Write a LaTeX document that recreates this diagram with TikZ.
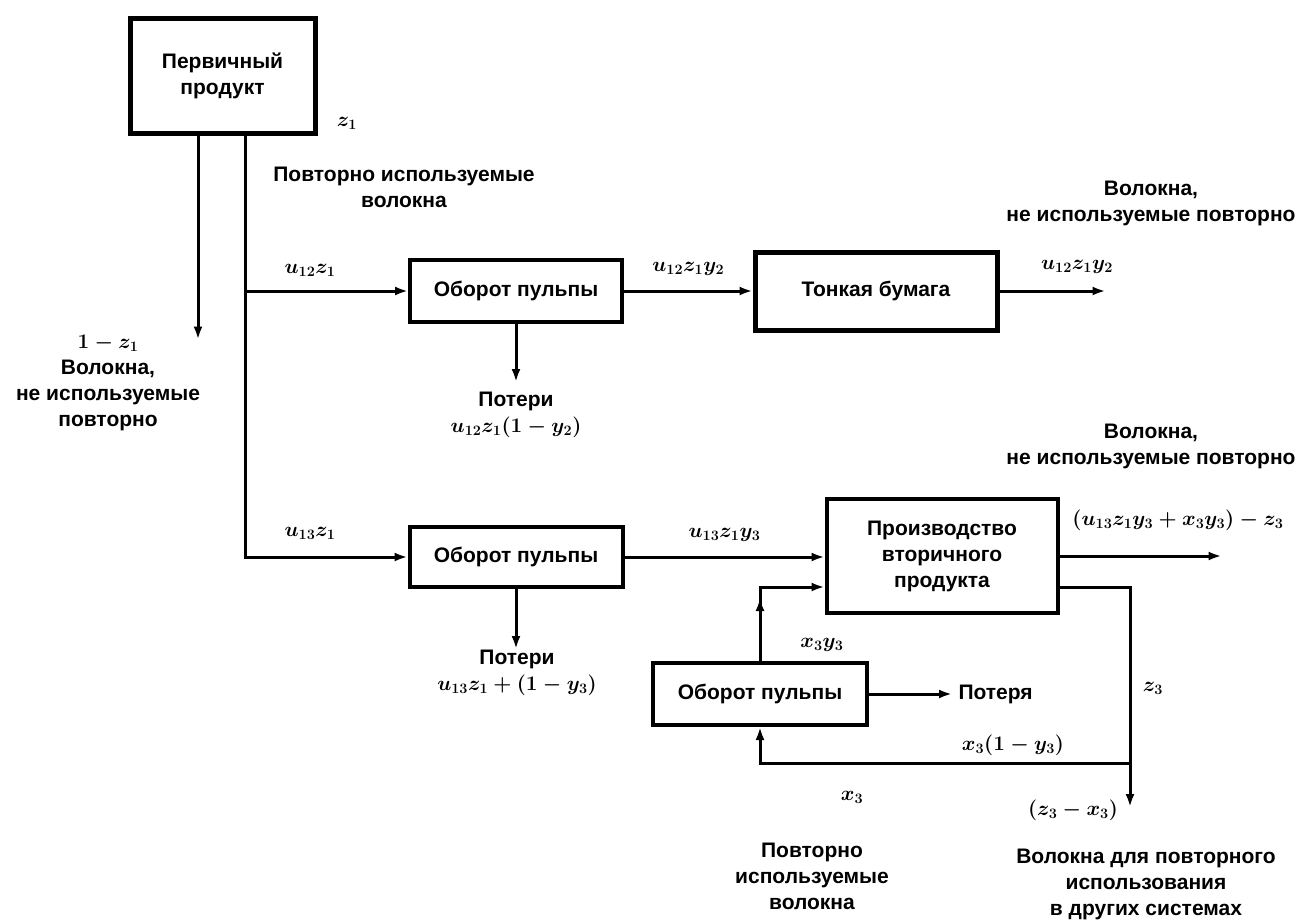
\documentclass[tikz,border=0pt]{standalone}
\usepackage{fontspec}
\setmainfont{Liberation Sans}
\usetikzlibrary{%
  arrows.meta,%
  calc,%
  positioning%
}
\tikzset{>={Latex[length=13pt,width=9pt]},%
  blok/.style={draw,line width=4pt,align=center,inner sep=0pt},%
  lbl/.style={align=center,inner sep=0pt},%
  flow/.style={line width=3pt}}

\begin{document}
\begin{tikzpicture}[x=1pt,y=-1pt,font=\fontsize{21}{26}\selectfont\bfseries\boldmath]
      \useasboundingbox (0,0) rectangle (1302,922);
      % blocks
      \node[blok,line width=5pt,minimum width=185pt,minimum height=115pt] (perv) at (222.5,75.5) {Первичный\\продукт};
      \node[blok,minimum width=212pt,minimum height=62pt] (ob1) at (516,291) {Оборот пульпы};
      \node[blok,line width=5pt,minimum width=242pt,minimum height=78pt] (bum) at (876,291) {Тонкая бумага};
      \node[blok,minimum width=213pt,minimum height=60pt] (ob2) at (516,557) {Оборот пульпы};
      \node[blok,minimum width=231pt,minimum height=114pt] (proizv) at (942,556) {Производство\\вторичного\\продукта};
      \node[blok,minimum width=214pt,minimum height=62pt] (ob3) at (760,694) {Оборот пульпы};
      % primary product
      \coordinate (tr) at ($(perv.south)+(22.5,0)$);
      \draw[flow,->] ($(perv.south)+(-24.5,0)$) -- ++(0,204) coordinate (lft);
      \node[lbl] (lefttxt) at (108,383) {$1 - z_1$\\Волокна,\\не используемые\\повторно};
      \node[lbl] (z1) at (347,123) {$z_1$};
      \node[lbl] (povt) at (404,187) {Повторно используемые\\волокна};
      \draw[flow,->] (tr) |- (ob2.west);
      \draw[flow,->] (tr |- ob1.west) -- (ob1.west);
      \node[lbl] (u12) at (310,270) {$u_{12}z_1$};
      \node[lbl] (u13) at (310,533) {$u_{13}z_1$};
      % upper line
      \draw[flow,->] (ob1.south) -- ++(0,58) coordinate (pot1);
      \node[lbl] (pot1txt) at (516,415) {Потери\\$u_{12}z_1(1 - y_2)$};
      \draw[flow,->] (ob1.east) -- (bum.west) node[midway,lbl,above=14pt] {$u_{12}z_1y_2$};
      \draw[flow,->] (bum.east) -- ++(106,0) coordinate (out1);
      \node[lbl] (out1txt) at (1077,267) {$u_{12}z_1y_2$};
      \node[lbl] (ne1) at (1151,203) {Волокна,\\не используемые повторно};
      % lower line
      \draw[flow,->] (ob2.south) -- ++(0,60) coordinate (pot2);
      \node[lbl] (pot2txt) at (517,673) {Потери\\$u_{13}z_1 + (1 - y_3)$};
      \draw[flow,->] (ob2.east) -- (proizv.west |- ob2.east) node[midway,lbl,above=14pt] {$u_{13}z_1y_3$};
      \draw[flow,->] (proizv.east) -- ++(162,0) coordinate (out2);
      \node[lbl] (out2txt) at (1178,520) {$(u_{13}z_1y_3 + x_3y_3) - z_3$};
      \node[lbl] (ne2) at (1151,446) {Волокна,\\не используемые повторно};
      % recycling loop
      \coordinate (in2) at ($(proizv.west)+(0,31)$);
      \coordinate (vyh) at ($(proizv.east)+(0,31)$);
      \draw[flow,->] (ob3.north) |- (in2);
      \draw[flow,->] (ob3.north) -- ++(0,-63);
      \node[lbl] (x3y3) at (822,645) {$x_3y_3$};
      \draw[flow,->] (ob3.east) -- ++(83,0) node[lbl,right=5pt] (poterya) {Потеря};
      \coordinate (ugol) at (1130,763);
      \draw[flow,->] (vyh) -| (1130,807) coordinate (niz);
      \draw[flow,->] (ugol) -| (ob3.south);
      \node[lbl] (z3) at (1153,688) {$z_3$};
      \node[lbl] (x3y) at (1013,745) {$x_3(1 - y_3)$};
      \node[lbl] (x3) at (852,797) {$x_3$};
      \node[lbl] (zx) at (1073,810) {$(z_3 - x_3)$};
      \node[lbl] (povt2) at (812,876) {Повторно\\используемые\\волокна};
      \node[lbl] (drug) at (1146,884) {Волокна для повторного\\использования\\в других системах};
\end{tikzpicture}
\end{document}
